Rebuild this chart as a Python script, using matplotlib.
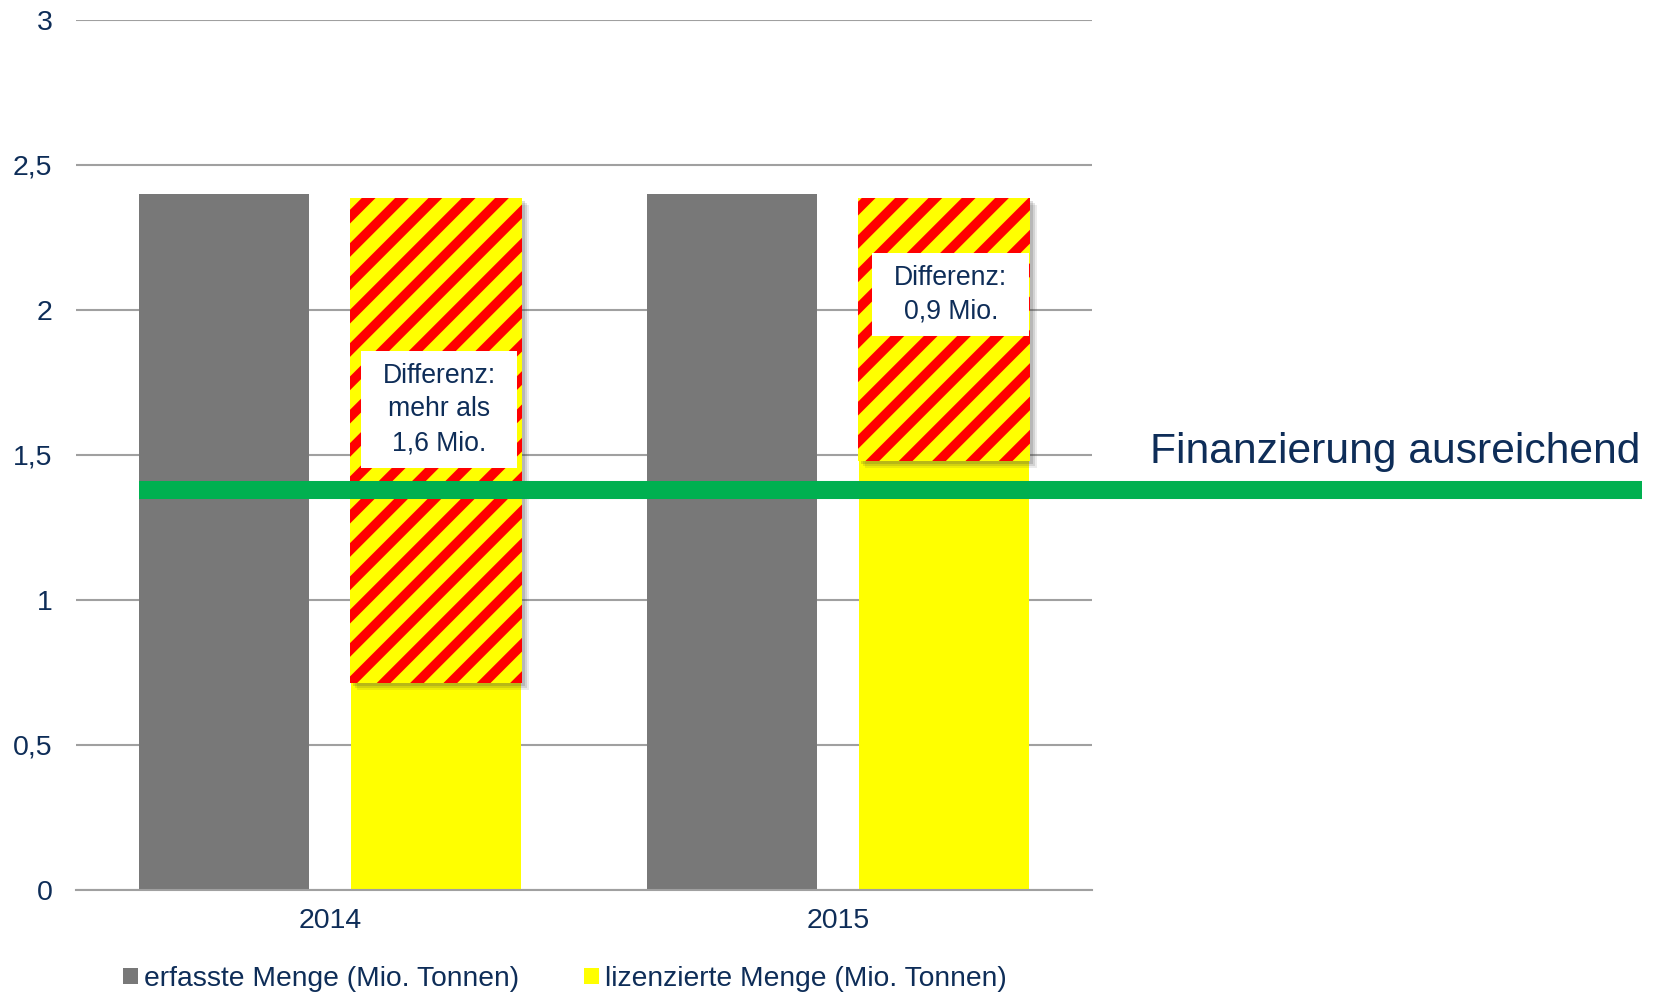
import matplotlib
matplotlib.use("Agg")
import matplotlib.pyplot as plt
from matplotlib.patches import Rectangle, Patch
import numpy as np

plt.rcParams['font.family'] = ['Liberation Sans', 'DejaVu Sans']
plt.rcParams['hatch.linewidth'] = 7.0
plt.rcParams['hatch.color'] = '#ff0000'

# ---- data ----
categories = ['2014', '2015']
erfasst = [2.4, 2.4]
lizenziert = [0.715, 1.48]
diff_top = [2.385, 2.385]
diff_labels = ['Differenz:\nmehr als\n1,6 Mio.', 'Differenz:\n0,9 Mio.']
finanz_level = 1.38
yticks = [0, 0.5, 1, 1.5, 2, 2.5, 3]
ytick_labels = ['0', '0,5', '1', '1,5', '2', '2,5', '3']
legend_labels = ['erfasste Menge (Mio. Tonnen)', 'lizenzierte Menge (Mio. Tonnen)']

NAVY = '#0e2d58'
GREY = '#787878'
YELLOW = '#ffff00'
RED = '#ff0000'
GREEN = '#00b050'

fig = plt.figure(figsize=(16.54, 9.94), dpi=100)
ax = fig.add_axes([76/1654, 1-890/994, (1092-76)/1654, (890-20)/994])

x = np.arange(len(categories))
bw = 0.335
off = 0.2085

ax.bar(x - off, erfasst, width=bw, color=GREY, zorder=2)
ax.bar(x + off, lizenziert, width=bw, color=YELLOW, zorder=2)

px_x = 1/508.0
px_y = 1/290.0
ow = 0.34
for i in range(len(categories)):
    xc = x[i] + off
    b0 = lizenziert[i]
    h = diff_top[i] - b0
    # soft shadow
    for k, a in zip([7, 5, 3], [0.10, 0.14, 0.18]):
        ax.add_patch(Rectangle((xc - ow/2 + k*px_x, b0 - k*px_y), ow, h,
                               facecolor='#404040', edgecolor='none', alpha=a, zorder=3))
    p = Rectangle((xc - ow/2, b0), ow, h, facecolor=YELLOW, edgecolor=RED,
                  linewidth=0, hatch='/', zorder=4)
    ax.add_patch(p)

# text boxes
boxes = [(0.2146, 1.657, 156*px_x, 117*px_y), (0.222, 2.052, 157*px_x, 83*px_y)]
for i, (dx, yc, w, hh) in enumerate(boxes):
    ax.add_patch(Rectangle((x[i] + dx - w/2, yc - hh/2), w, hh, facecolor='white',
                           edgecolor='none', zorder=5))
    ax.text(x[i] + dx, yc, diff_labels[i], ha='center', va='center', fontsize=19.2,
            color=NAVY, zorder=6, linespacing=1.38)

# green line
ax.plot([x[0] - off - bw/2, 2.583], [finanz_level, finanz_level], color=GREEN, lw=13,
        solid_capstyle='butt', clip_on=False, zorder=7)
ax.text(2.579, 1.472, 'Finanzierung ausreichend', ha='right', va='baseline',
        fontsize=30.7, color=NAVY, clip_on=False)

ax.set_xlim(-0.5, 1.5)
ax.set_ylim(0, 3)
ax.set_yticks(yticks)
ax.set_yticklabels(ytick_labels)
ax.set_xticks(x)
ax.set_xticklabels(categories)
ax.tick_params(axis='both', length=0, labelsize=20.5, colors=NAVY)
ax.tick_params(axis='y', pad=17)
ax.tick_params(axis='x', pad=13)
ax.yaxis.grid(True, color='#a0a0a0', lw=1.5, zorder=0)
ax.set_axisbelow(True)
for s in ['top', 'right', 'left']:
    ax.spines[s].set_visible(False)
ax.spines['bottom'].set_color('#a0a0a0')
ax.spines['bottom'].set_linewidth(1.5)

handles = [Patch(facecolor=GREY, edgecolor='none'), Patch(facecolor=YELLOW, edgecolor='none')]
leg = fig.legend(handles, legend_labels, loc='center left', bbox_to_anchor=(123/1654, 1-979/994),
                 ncol=2, frameon=False, fontsize=20.3, handlelength=0.53, handleheight=0.53,
                 handletextpad=0.22, columnspacing=2.3, borderpad=0, borderaxespad=0)
for t in leg.get_texts():
    t.set_color(NAVY)

fig.savefig('out.png', dpi=100)
